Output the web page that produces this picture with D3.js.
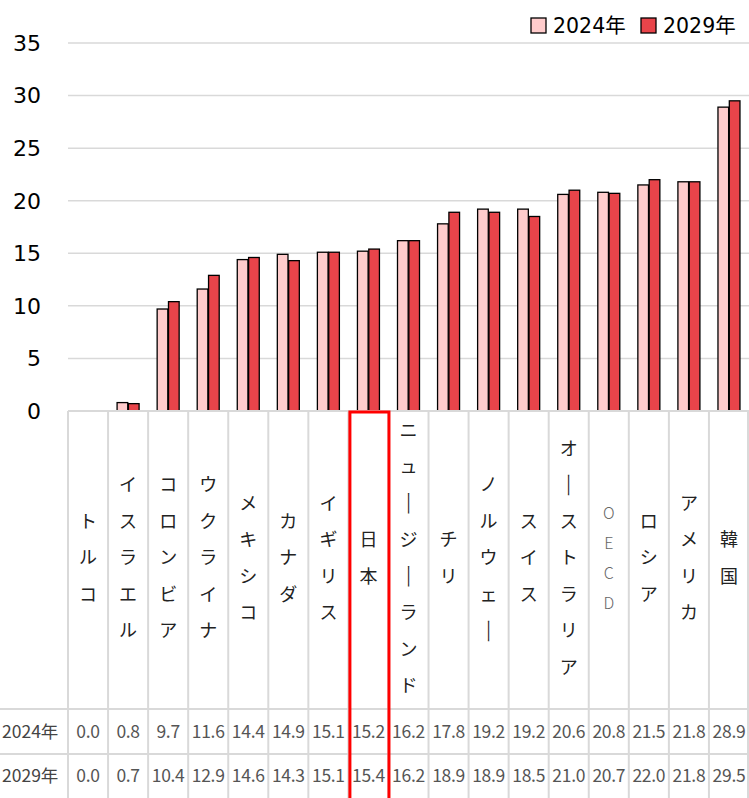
<!DOCTYPE html>
<html>
<head>
<meta charset="utf-8">
<script src="https://cdn.jsdelivr.net/npm/d3@7"></script>
<style>
  body { margin: 0; background: #fff; }
  svg { display: block; }
</style>
</head>
<body>
<script>
// ** Data
const countries = ["トルコ", "イスラエル", "コロンビア", "ウクライナ", "メキシコ", "カナダ", "イギリス", "日本",
  "ニュージーランド", "チリ", "ノルウェー", "スイス", "オーストラリア", "OECD", "ロシア", "アメリカ", "韓国"];
const v2024 = [0.0, 0.8, 9.7, 11.6, 14.4, 14.9, 15.1, 15.2, 16.2, 17.8, 19.2, 19.2, 20.6, 20.8, 21.5, 21.8, 28.9];
const v2029 = [0.0, 0.7, 10.4, 12.9, 14.6, 14.3, 15.1, 15.4, 16.2, 18.9, 18.9, 18.5, 21.0, 20.7, 22.0, 21.8, 29.5];
const seriesNames = ["2024年", "2029年"];
const yTicks = [0, 5, 10, 15, 20, 25, 30, 35];
const highlight = "日本";

// ** Layout
const W = 749, H = 798;
const plotLeft = 68, plotRight = 749, plotTop = 43, zeroY = 411;
const row1 = 709, row2 = 754;
const colors = ["#ffcccc", "#e8444a"];
const series = [v2024, v2029];

const svg = d3.select("body").append("svg").attr("width", W).attr("height", H);

const x = d3.scaleBand().domain(countries).range([plotLeft, plotRight]);
const y = d3.scaleLinear().domain([0, 35]).range([zeroY, plotTop]);
const xs = d3.scaleBand().domain(seriesNames).range([0, 22]).paddingInner(0.06);

// gridlines
svg.append("g")
  .selectAll("line")
  .data(yTicks)
  .join("line")
  .attr("x1", plotLeft).attr("x2", plotRight)
  .attr("y1", d => y(d)).attr("y2", d => y(d))
  .attr("stroke", "#d9d9d9").attr("stroke-width", 1.5);

// y labels
svg.append("g")
  .selectAll("text")
  .data(yTicks)
  .join("text")
  .attr("x", 41).attr("y", d => y(d))
  .attr("dy", "0.36em")
  .attr("text-anchor", "end")
  .attr("font-family", "DejaVu Sans, sans-serif")
  .attr("font-size", 22)
  .attr("fill", "#000")
  .text(d => d);

// bars
const groups = svg.append("g")
  .selectAll("g")
  .data(countries)
  .join("g")
  .attr("transform", d => `translate(${x(d) + x.bandwidth() / 2 - 11},0)`);

groups.selectAll("rect")
  .data((d, i) => series.map((s, k) => ({ key: seriesNames[k], v: s[i], k })))
  .join("rect")
  .filter(d => d.v > 0)
  .attr("x", d => xs(d.key))
  .attr("width", xs.bandwidth())
  .attr("y", d => y(d.v))
  .attr("height", d => y(0) - y(d.v))
  .attr("fill", d => colors[d.k])
  .attr("stroke", "#000")
  .attr("stroke-width", 1.3);

// table grid
const tbl = svg.append("g");
tbl.selectAll("line.v")
  .data(d3.range(countries.length + 1))
  .join("line")
  .attr("class", "v")
  .attr("x1", i => i < countries.length ? x(countries[i]) : plotRight - 1)
  .attr("x2", i => i < countries.length ? x(countries[i]) : plotRight - 1)
  .attr("y1", zeroY).attr("y2", H)
  .attr("stroke", "#d9d9d9").attr("stroke-width", 2);

tbl.selectAll("line.h")
  .data([row1, row2])
  .join("line")
  .attr("class", "h")
  .attr("x1", 0).attr("x2", plotRight)
  .attr("y1", d => d).attr("y2", d => d)
  .attr("stroke", "#d9d9d9").attr("stroke-width", 2);

// axis line
svg.append("line")
  .attr("x1", plotLeft).attr("x2", plotRight)
  .attr("y1", zeroY).attr("y2", zeroY)
  .attr("stroke", "#d9d9d9").attr("stroke-width", 2);

// vertical category labels
const labelMid = 558;
countries.forEach(name => {
  const latin = /^[A-Z]+$/.test(name);
  const chars = Array.from(name);
  const pitch = latin ? 30 : 36.5;
  const cx = x(name) + x.bandwidth() / 2;
  chars.forEach((c, i) => {
    const cy = labelMid + (i - (chars.length - 1) / 2) * pitch;
    svg.append("text")
      .attr("x", cx).attr("y", cy)
      .attr("dy", "0.35em")
      .attr("text-anchor", "middle")
      .attr("font-family", "Noto Sans CJK JP, sans-serif")
      .attr("font-size", latin ? 16 : 18)
      .attr("font-weight", latin ? 300 : 400)
      .attr("fill", latin ? "#666" : "#222")
      .attr("transform", c === "ー"
        ? `translate(${cx},${cy}) rotate(90) scale(1.45,0.7) translate(${-cx},${-cy})`
        : null)
      .text(c);
  });
});

// table values
[row1, row2].forEach((ry, k) => {
  const cy = ry + (k === 0 ? row2 - row1 : H - row2) / 2;
  svg.append("text")
    .attr("x", 2).attr("y", cy).attr("dy", "0.35em")
    .attr("font-family", "Noto Sans CJK JP, sans-serif")
    .attr("font-size", 17.5)
    .attr("fill", "#444")
    .text(seriesNames[k]);
  svg.append("g")
    .selectAll("text")
    .data(series[k])
    .join("text")
    .attr("x", (d, i) => x(countries[i]) + x.bandwidth() / 2)
    .attr("y", cy).attr("dy", "0.35em")
    .attr("text-anchor", "middle")
    .attr("font-family", "Noto Sans CJK JP, sans-serif")
    .attr("font-size", 17.5)
    .attr("letter-spacing", -0.3)
    .attr("fill", "#555")
    .text(d => d.toFixed(1));
});

// highlight box
svg.append("rect")
  .attr("x", x(highlight) + 1.5)
  .attr("y", zeroY + 1)
  .attr("width", x.bandwidth() - 1)
  .attr("height", H)
  .attr("fill", "none")
  .attr("stroke", "#ff0000")
  .attr("stroke-width", 3);

// legend
const legend = svg.append("g").attr("transform", "translate(531,0)");
seriesNames.forEach((s, k) => {
  const lx = k * 110;
  legend.append("rect")
    .attr("x", lx).attr("y", 18)
    .attr("width", 15).attr("height", 15)
    .attr("fill", colors[k])
    .attr("stroke", "#000").attr("stroke-width", 1.3);
  legend.append("text")
    .attr("x", lx + 22).attr("y", 25.5)
    .attr("dy", "0.36em")
    .attr("font-family", "DejaVu Sans, Noto Sans CJK JP, sans-serif")
    .attr("font-size", 20.5)
    .attr("fill", "#000")
    .text(s);
});
</script>
</body>
</html>
